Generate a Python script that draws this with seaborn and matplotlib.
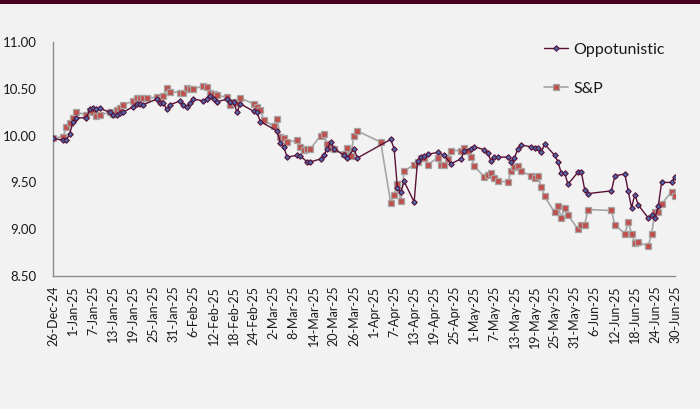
import matplotlib
matplotlib.use("Agg")
import matplotlib.pyplot as plt
import matplotlib.ticker as mticker
import seaborn as sns
import pandas as pd
from matplotlib.patches import Rectangle

# ---------------- data ----------------
opp_dates = [
    "2024-12-26", "2024-12-29", "2024-12-30", "2024-12-31", "2025-01-01", "2025-01-02",
    "2025-01-05", "2025-01-06", "2025-01-07", "2025-01-08", "2025-01-09",
    "2025-01-12", "2025-01-13", "2025-01-14", "2025-01-15", "2025-01-16",
    "2025-01-19", "2025-01-20", "2025-01-21", "2025-01-22",
    "2025-01-26", "2025-01-27", "2025-01-28", "2025-01-29", "2025-01-30",
    "2025-02-02", "2025-02-03", "2025-02-04", "2025-02-05", "2025-02-06",
    "2025-02-09", "2025-02-10", "2025-02-11", "2025-02-12", "2025-02-13",
    "2025-02-16", "2025-02-17", "2025-02-18", "2025-02-19", "2025-02-20",
    "2025-02-24", "2025-02-25", "2025-02-26",
    "2025-03-03", "2025-03-04", "2025-03-05", "2025-03-06",
    "2025-03-09", "2025-03-10", "2025-03-12", "2025-03-13",
    "2025-03-16", "2025-03-17", "2025-03-18", "2025-03-19", "2025-03-20",
    "2025-03-23", "2025-03-24", "2025-03-26", "2025-03-27",
    "2025-04-06", "2025-04-07", "2025-04-08", "2025-04-09", "2025-04-10",
    "2025-04-13", "2025-04-14", "2025-04-15", "2025-04-16", "2025-04-17",
    "2025-04-20", "2025-04-22", "2025-04-24",
    "2025-04-27", "2025-04-28", "2025-04-30", "2025-05-01",
    "2025-05-04", "2025-05-05", "2025-05-06", "2025-05-07", "2025-05-08",
    "2025-05-11", "2025-05-12", "2025-05-13", "2025-05-14", "2025-05-15",
    "2025-05-18", "2025-05-19", "2025-05-20", "2025-05-21", "2025-05-22",
    "2025-05-25", "2025-05-26", "2025-05-27", "2025-05-28", "2025-05-29",
    "2025-06-01", "2025-06-02", "2025-06-03", "2025-06-04",
    "2025-06-11", "2025-06-12",
    "2025-06-15", "2025-06-16", "2025-06-17", "2025-06-18", "2025-06-19",
    "2025-06-22", "2025-06-23", "2025-06-24", "2025-06-25", "2025-06-26",
    "2025-06-29", "2025-06-30",
]
opp_values = [
    9.97, 9.95, 9.95, 10.02, 10.15, 10.19,
    10.19, 10.28, 10.29, 10.28, 10.29,
    10.25, 10.22, 10.22, 10.24, 10.25,
    10.31, 10.34, 10.34, 10.33,
    10.39, 10.35, 10.35, 10.28, 10.33,
    10.37, 10.33, 10.31, 10.35, 10.39,
    10.37, 10.39, 10.42, 10.39, 10.36,
    10.39, 10.36, 10.36, 10.25, 10.34,
    10.26, 10.25, 10.15,
    10.05, 9.92, 9.88, 9.77,
    9.79, 9.78, 9.72, 9.72,
    9.75, 9.79, 9.86, 9.93, 9.86,
    9.79, 9.76, 9.86, 9.76,
    9.96, 9.86, 9.44, 9.40, 9.51,
    9.29, 9.73, 9.77, 9.78, 9.80,
    9.82, 9.79, 9.70,
    9.75, 9.84, 9.86, 9.88,
    9.85, 9.81, 9.73, 9.77, 9.77,
    9.77, 9.72, 9.76, 9.86, 9.90,
    9.88, 9.87, 9.87, 9.82, 9.91,
    9.79, 9.72, 9.60, 9.60, 9.48,
    9.61, 9.61, 9.42, 9.38,
    9.41, 9.57,
    9.59, 9.41, 9.23, 9.37, 9.26,
    9.12, 9.15, 9.12, 9.25, 9.50,
    9.50, 9.56,
]

sp_dates = [
    "2024-12-26", "2024-12-29", "2024-12-30", "2024-12-31", "2025-01-01", "2025-01-02",
    "2025-01-05", "2025-01-06", "2025-01-07", "2025-01-08", "2025-01-09",
    "2025-01-12", "2025-01-13", "2025-01-14", "2025-01-15", "2025-01-16",
    "2025-01-19", "2025-01-20", "2025-01-21", "2025-01-22", "2025-01-23",
    "2025-01-26", "2025-01-27", "2025-01-28", "2025-01-29", "2025-01-30",
    "2025-02-02", "2025-02-03", "2025-02-04", "2025-02-05", "2025-02-06",
    "2025-02-09", "2025-02-10", "2025-02-11", "2025-02-12", "2025-02-13",
    "2025-02-16", "2025-02-17", "2025-02-18", "2025-02-19", "2025-02-20",
    "2025-02-24", "2025-02-25", "2025-02-26", "2025-02-27",
    "2025-03-02", "2025-03-03", "2025-03-04", "2025-03-05", "2025-03-06",
    "2025-03-09", "2025-03-10", "2025-03-11", "2025-03-12", "2025-03-13",
    "2025-03-16", "2025-03-17", "2025-03-18", "2025-03-19", "2025-03-20",
    "2025-03-23", "2025-03-24", "2025-03-25", "2025-03-26", "2025-03-27",
    "2025-04-03",
    "2025-04-06", "2025-04-07", "2025-04-08", "2025-04-09", "2025-04-10",
    "2025-04-13", "2025-04-14", "2025-04-15", "2025-04-16", "2025-04-17",
    "2025-04-20", "2025-04-21", "2025-04-22", "2025-04-23", "2025-04-24",
    "2025-04-27", "2025-04-28", "2025-04-29", "2025-04-30", "2025-05-01",
    "2025-05-04", "2025-05-05", "2025-05-06", "2025-05-07", "2025-05-08",
    "2025-05-11", "2025-05-12", "2025-05-13", "2025-05-14", "2025-05-15",
    "2025-05-18", "2025-05-19", "2025-05-20", "2025-05-21", "2025-05-22",
    "2025-05-25", "2025-05-26", "2025-05-27", "2025-05-28", "2025-05-29",
    "2025-06-01", "2025-06-02", "2025-06-03", "2025-06-04",
    "2025-06-11", "2025-06-12",
    "2025-06-15", "2025-06-16", "2025-06-17", "2025-06-18", "2025-06-19",
    "2025-06-22", "2025-06-23", "2025-06-24", "2025-06-25", "2025-06-26",
    "2025-06-29", "2025-06-30",
]
sp_values = [
    9.97, 9.99, 10.09, 10.13, 10.19, 10.25,
    10.22, 10.26, 10.25, 10.21, 10.22,
    10.25, 10.23, 10.27, 10.29, 10.33,
    10.37, 10.40, 10.40, 10.40, 10.40,
    10.41, 10.39, 10.42, 10.51, 10.47,
    10.46, 10.46, 10.51, 10.50, 10.50,
    10.53, 10.52, 10.45, 10.44, 10.43,
    10.41, 10.33, 10.36, 10.35, 10.40,
    10.34, 10.31, 10.27, 10.17,
    10.10, 10.18, 9.99, 9.97, 9.93,
    9.95, 9.88, 9.85, 9.86, 9.86,
    10.00, 10.02, 9.91, 9.87, 9.86,
    9.80, 9.87, 9.78, 10.00, 10.05,
    9.93,
    9.28, 9.37, 9.48, 9.30, 9.62,
    9.69, 9.72, 9.76, 9.76, 9.69,
    9.76, 9.69, 9.69, 9.75, 9.84,
    9.84, 9.87, 9.84, 9.77, 9.67,
    9.56, 9.58, 9.60, 9.55, 9.52,
    9.50, 9.62, 9.66, 9.67, 9.62,
    9.57, 9.55, 9.57, 9.45, 9.35,
    9.18, 9.25, 9.12, 9.23, 9.15,
    9.00, 9.05, 9.05, 9.21,
    9.20, 9.05,
    8.95, 9.08, 8.95, 8.85, 8.86,
    8.82, 8.95, 9.18, 9.18, 9.27,
    9.40, 9.35,
]

series_names = ["Oppotunistic", "S&P"]
y_ticks = [8.50, 9.00, 9.50, 10.00, 10.50, 11.00]
x_start, x_end = "2024-12-26", "2025-06-30"

# ---------------- styling ----------------
sns.set_theme(style="white")
plt.rcParams["font.family"] = ["Lato", "DejaVu Sans"]

BG = "#f2f2f2"
MAROON = "#5a1035"
BLUE = "#4a6bb0"
GRAY = "#a5a5a5"
RED = "#c0504d"
AXIS = "#8c8c8c"
TXT = "#1a1a1a"

fig = plt.figure(figsize=(7.0, 4.09), dpi=100, facecolor=BG)
ax = fig.add_axes([53 / 700, 1 - 276 / 409, (675 - 53) / 700, (276 - 42) / 409])
ax.set_facecolor(BG)

# top banner
fig.patches.append(Rectangle((0, 1 - 4 / 409), 1, 4 / 409, transform=fig.transFigure,
                             facecolor="#4a0020", edgecolor="none", zorder=0))

opp_df = pd.DataFrame({"date": pd.to_datetime(opp_dates), "value": opp_values})
sp_df = pd.DataFrame({"date": pd.to_datetime(sp_dates), "value": sp_values})

sns.lineplot(data=sp_df, x="date", y="value", ax=ax, color=GRAY, linewidth=1.2,
             marker="s", markersize=4.2, markerfacecolor=RED, markeredgecolor=GRAY,
             markeredgewidth=0.9, label=series_names[1], zorder=2)
sns.lineplot(data=opp_df, x="date", y="value", ax=ax, color=MAROON, linewidth=1.0,
             marker="D", markersize=2.8, markerfacecolor=BLUE, markeredgecolor=MAROON,
             markeredgewidth=0.8, label=series_names[0], zorder=3)

ax.set_xlim(pd.Timestamp(x_start), pd.Timestamp(x_end))
ax.set_ylim(y_ticks[0], y_ticks[-1])
ax.set_yticks(y_ticks)
ax.yaxis.set_major_formatter(mticker.FormatStrFormatter("%.2f"))

xt = pd.date_range(x_start, x_end, freq="6D")
ax.set_xticks(xt)
ax.set_xticklabels([f"{d.day}-{d.strftime('%b-%y')}" for d in xt], rotation=90)

ax.set_xlabel("")
ax.set_ylabel("")
for s in ["top", "right"]:
    ax.spines[s].set_visible(False)
for s in ["left", "bottom"]:
    ax.spines[s].set_color(AXIS)
    ax.spines[s].set_linewidth(1.0)
ax.tick_params(axis="both", which="major", length=4, width=0.9, color=AXIS,
               direction="out", labelcolor=TXT)
ax.tick_params(axis="y", labelsize=9.5, pad=8)
ax.tick_params(axis="x", labelsize=9, pad=3)
ax.grid(False)

handles, labels = ax.get_legend_handles_labels()
order = [labels.index(n) for n in series_names]
leg = ax.legend([handles[i] for i in order], [labels[i] for i in order],
                loc="upper left", bbox_to_anchor=(538 / 700, 1 - 36 / 409),
                bbox_transform=fig.transFigure, frameon=False, fontsize=11.5,
                handlelength=1.5, handletextpad=0.3, labelspacing=1.55, borderaxespad=0)
for t in leg.get_texts():
    t.set_color(TXT)

fig.savefig("out.png", dpi=100, facecolor=BG)
